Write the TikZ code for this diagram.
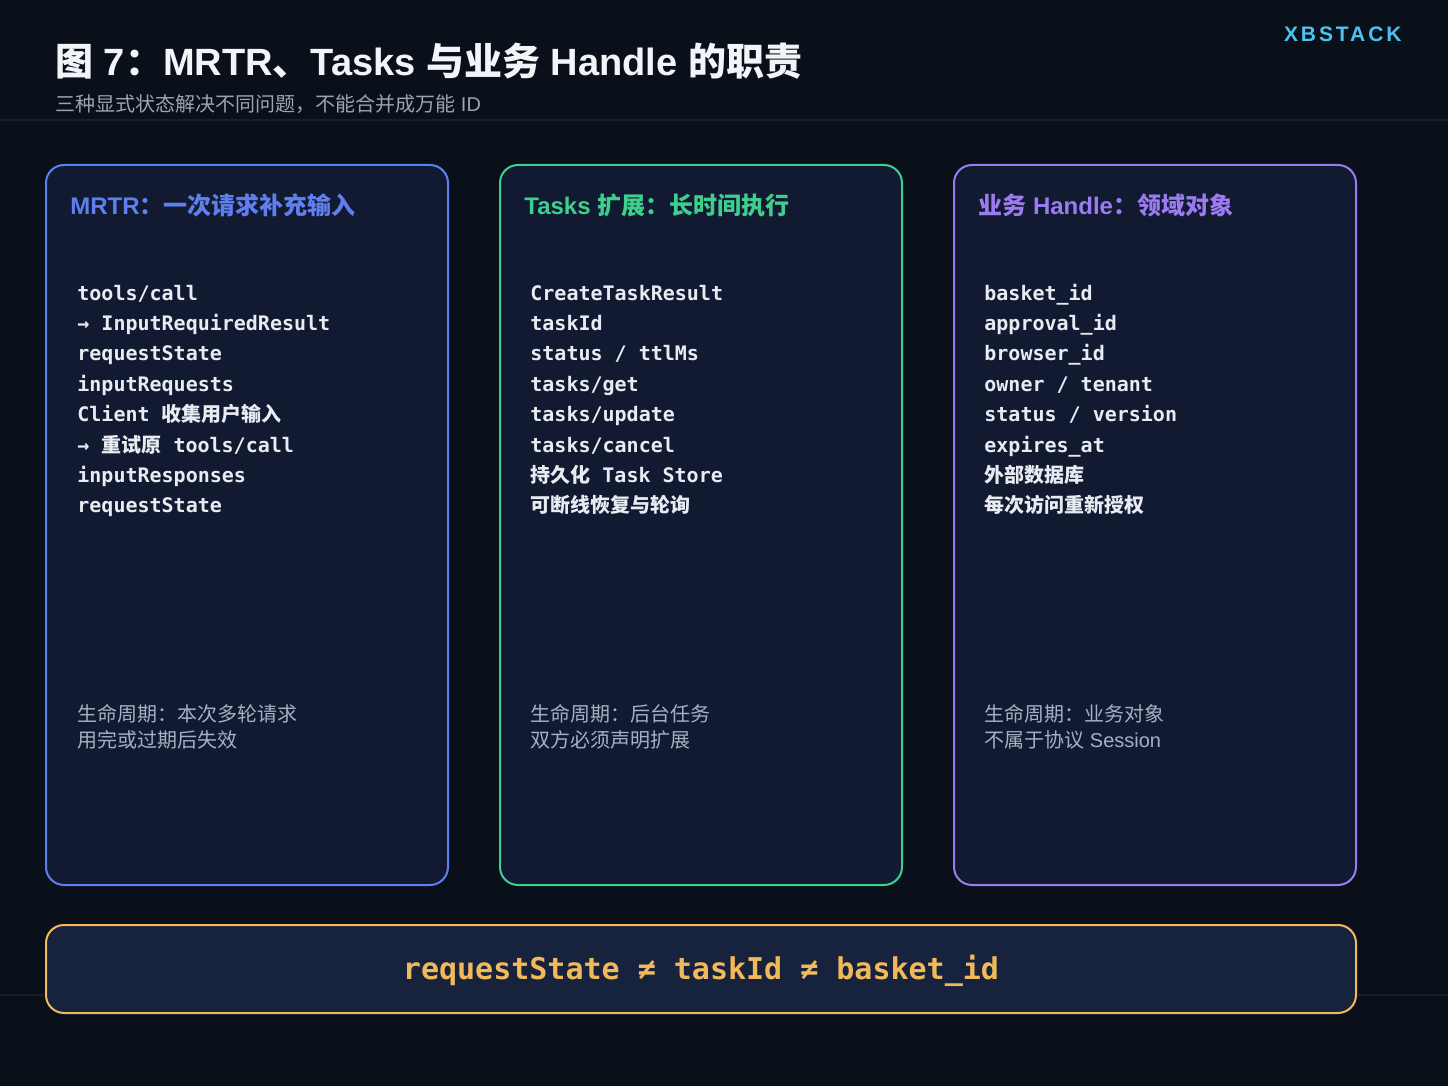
\documentclass[tikz,border=0pt]{standalone}
\usepackage{fontspec}
\setmainfont{Liberation Sans}
\setmonofont{DejaVu Sans Mono}
\newfontfamily\cjk{Noto Sans CJK SC}
\newcommand\zh[1]{{\cjk #1}}

\definecolor{pagebg}{HTML}{0A101A}
\definecolor{rulecol}{HTML}{161E2B}
\definecolor{cardbg}{HTML}{111A30}
\definecolor{barbg}{HTML}{17233D}
\definecolor{titlefg}{HTML}{F2F4F8}
\definecolor{subfg}{HTML}{9AA4B4}
\definecolor{brandfg}{HTML}{4CC3EE}
\definecolor{mrtrcol}{HTML}{5F7FF0}
\definecolor{taskcol}{HTML}{3ECF8E}
\definecolor{handlecol}{HTML}{9C7BF2}
\definecolor{itemfg}{HTML}{E8ECF2}
\definecolor{lifefg}{HTML}{A6B0C3}
\definecolor{neqcol}{HTML}{F2B95A}

\tikzset{
  x=0.5pt, y=-0.5pt,
  card/.style = {line width=1pt, rounded corners=9pt, fill=cardbg},
  head/.style = {anchor=base west, inner sep=0pt, font=\fontsize{12}{14}\selectfont\bfseries},
  item/.style = {anchor=base west, inner sep=0pt, text=itemfg, font=\fontsize{10}{12}\selectfont\ttfamily\bfseries},
  life/.style = {anchor=base west, inner sep=0pt, text=lifefg, font=\fontsize{10}{12}\selectfont},
}

\begin{document}
\begin{tikzpicture}

  %% page and rules
  \fill[pagebg] (0,0) rectangle (1448,1086);
  \useasboundingbox (0,0) rectangle (1448,1086);
  \draw[rulecol, line width=0.6pt] (0,120) -- (1448,120);
  \draw[rulecol, line width=0.6pt] (0,995) -- (1448,995);

  % heading
  \node[anchor=base west, inner sep=0pt, text=titlefg, font=\fontsize{19}{23}\selectfont\bfseries] (title) at (55,76)
    {\zh{图} 7\zh{：}MRTR\zh{、}Tasks \zh{与业务} Handle \zh{的职责}};
  \node[anchor=base west, inner sep=0pt, text=subfg, font=\fontsize{10}{12}\selectfont] (subtitle) at (55,112)
    {\zh{三种显式状态解决不同问题，不能合并成万能} ID};
  \node[anchor=base east, inner sep=0pt, text=brandfg, font=\fontsize{10.5}{12}\selectfont\bfseries\addfontfeature{LetterSpace=14}] (brand) at (1402,42) {XBSTACK};

  % MRTR card
  \draw[card, draw=mrtrcol] (46,165) rectangle (448,885);
  \node[head, text=mrtrcol] (mrtr) at (70,215) {MRTR\zh{：一次请求补充输入}};
  \foreach \txt [count=\i] in {tools/call, → InputRequiredResult, requestState, inputRequests,
      Client \zh{收集用户输入}, → \zh{重试原} tools/call, inputResponses, requestState}
    \node[item] (mrtr-\i) at (77,269.6+30.4*\i) {\txt};
  \node[life] (mrtr-life1) at (77,721) {\zh{生命周期：本次多轮请求}};
  \node[life] (mrtr-life2) at (77,747) {\zh{用完或过期后失效}};

  % Tasks card
  \draw[card, draw=taskcol] (500,165) rectangle (902,885);
  \node[head, text=taskcol] (tasks) at (524,215) {Tasks \zh{扩展：长时间执行}};
  \foreach \txt [count=\i] in {CreateTaskResult, taskId, status / ttlMs, tasks/get,
      tasks/update, tasks/cancel, \zh{持久化} Task Store, \zh{可断线恢复与轮询}}
    \node[item] (tasks-\i) at (530,269.6+30.4*\i) {\txt};
  \node[life] (tasks-life1) at (530,721) {\zh{生命周期：后台任务}};
  \node[life] (tasks-life2) at (530,747) {\zh{双方必须声明扩展}};

  % Handle card
  \draw[card, draw=handlecol] (954,165) rectangle (1356,885);
  \node[head, text=handlecol] (handle) at (978,215) {\zh{业务} Handle\zh{：领域对象}};
  \foreach \txt [count=\i] in {basket\_id, approval\_id, browser\_id, owner / tenant,
      status / version, expires\_at, \zh{外部数据库}, \zh{每次访问重新授权}}
    \node[item] (handle-\i) at (984,269.6+30.4*\i) {\txt};
  \node[life] (handle-life1) at (984,721) {\zh{生命周期：业务对象}};
  \node[life] (handle-life2) at (984,747) {\zh{不属于协议} Session};

  % bottom bar
  \draw[card, draw=neqcol, fill=barbg] (46,925) rectangle (1356,1013);
  \node[text=neqcol, font=\fontsize{15}{18}\selectfont\ttfamily\bfseries] (neq) at (701,971)
    {requestState ≠ taskId ≠ basket\_id};
\end{tikzpicture}
\end{document}
